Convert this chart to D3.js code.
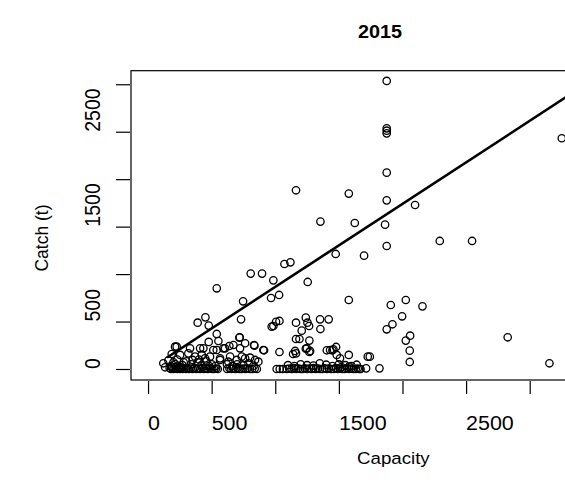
<!DOCTYPE html>
<html>
<head>
<meta charset="utf-8">
<script src="https://cdn.jsdelivr.net/npm/d3@7"></script>
<style>
body { margin: 0; background: #fff; }
text { font-family: "Liberation Sans", Arial, sans-serif; fill: #000; }
</style>
</head>
<body>
<div id="scatter"></div>
<script>
// values
var capacity = [
    1876, 1876, 1876, 1876, 3252, 1876, 1163, 1578, 1876, 2099, 1355, 1625, 1863, 1876, 2293, 2547,
    1475, 1698, 1072, 1119, 807, 896, 985, 1255, 540, 1030, 967, 747, 1578, 2026, 1908, 2157,
    1997, 1921, 1876, 2060, 2026, 2057, 2057, 2827, 3155,
    451, 390, 477, 540, 731, 721, 477, 553, 718,
    1033, 985, 972, 1163, 1240, 1253, 1266, 1208, 1352, 1420, 1355, 1163, 1190, 1268, 1240, 1268,
    1163, 1140, 1033, 1405, 1449, 1478, 1578, 1727, 1743, 1714, 1819, 836, 912,
    1248, 1274, 1156, 1431, 1457, 1509, 1483, 1006,
    212, 225, 330, 409, 540, 592, 639, 671, 833, 906, 723, 605, 763, 435, 513, 120,
    134, 186, 252, 317, 370, 422, 487, 566, 631, 697, 763, 841, 448, 566, 645, 737, 802, 867,
    160, 200, 230, 270, 300, 340, 390, 420, 460, 500, 530, 620, 660, 700, 750, 790, 830,
    180, 215, 245, 280, 350, 400, 480,
    170, 180, 190, 200, 210, 220, 230, 240, 250, 260, 272, 285, 298, 310, 322, 335, 350, 365,
    380, 395, 410, 425, 440, 455, 470, 488, 505, 520, 535, 548,
    622, 640, 655, 670, 688, 705, 720, 735, 750, 765, 782, 800, 818, 838, 855,
    1011, 1035, 1060, 1090, 1110, 1128, 1148, 1165, 1182, 1198, 1215, 1232, 1250, 1268, 1285,
    1300, 1318, 1335, 1352, 1370, 1388, 1405, 1422, 1440, 1458, 1475, 1492, 1510, 1528, 1545,
    1562, 1580, 1598, 1615, 1632, 1648, 1662, 1670,
    1100, 1150, 1200, 1250, 1300, 1350, 1400, 1450, 1500, 1550, 1600, 1640, 1520, 1580
];
var catchT = [
    3035, 2536, 2511, 2483, 2431, 2069, 1883, 1848, 1777, 1728, 1553, 1538, 1521, 1296, 1349, 1349,
    1212, 1194, 1106, 1124, 1005, 1005, 934, 917, 850, 780, 748, 713, 727, 727, 674, 660,
    555, 471, 418, 351, 299, 193, 74, 334, 60,
    544, 488, 457, 369, 523, 334, 285, 295, 330,
    506, 453, 446, 488, 541, 488, 453, 404, 523, 523, 421, 316, 316, 299, 214, 179,
    165, 158, 179, 197, 197, 232, 148, 130, 130, 7, 7, 246, 197,
    218, 190, 190, 200, 207, 112, 148, 498,
    235, 235, 218, 218, 200, 218, 242, 253, 253, 200, 218, 218, 271, 218, 200, 60,
    18, 158, 148, 165, 130, 148, 130, 95, 77, 95, 112, 95, 112, 112, 130, 130, 119, 77,
    90, 70, 100, 40, 80, 50, 70, 40, 80, 50, 30, 50, 30, 50, 40, 60, 35,
    30, 50, 20, 70, 95, 100, 30,
    10, 0, 15, 0, 5, 20, 0, 10, 0, 15, 0, 5, 0, 10, 0, 5, 0, 10,
    0, 5, 0, 10, 0, 5, 0, 8, 0, 0, 5, 0,
    0, 8, 0, 5, 0, 10, 0, 0, 5, 0, 8, 0, 0, 5, 0,
    0, 0, 0, 0, 5, 0, 10, 0, 5, 0, 0, 8, 0, 5, 0,
    10, 0, 5, 0, 0, 8, 0, 5, 0, 0, 10, 0, 5, 0, 0,
    8, 0, 5, 0, 0, 5, 0, 0,
    40, 30, 50, 40, 35, 60, 45, 30, 50, 40, 30, 45, 20, 25
];

// fitted line end points
var fitCapacity = [150, 3400];
var fitCatch = [121, 2965];

var xTicks = [0, 500, 1000, 1500, 2000, 2500, 3000];
var xTickLabels = ["0", "500", "", "1500", "", "2500", ""];
var yTicks = [0, 500, 1000, 1500, 2000, 2500, 3000];
var yTickLabels = ["0", "500", "", "1500", "", "2500", ""];

var svgWidth = 565;
var svgHeight = 488;
// text in the picture is a little wider than the font
var stretch = 1.1;

var svg = d3.select("#scatter")
    .append("svg")
    .attr("width", svgWidth)
    .attr("height", svgHeight);

// plot box runs off the right side of the picture
var xScale = d3.scaleLinear().domain([-134, 3650]).range([131, 612.4]);
var yScale = d3.scaleLinear().domain([-116, 3143]).range([380, 70.7]);

var points = capacity.map(function(c, i) { return {x: c, y: catchT[i]}; });

svg.append("rect")
    .attr("x", xScale.range()[0])
    .attr("y", yScale.range()[1])
    .attr("width", xScale.range()[1] - xScale.range()[0])
    .attr("height", yScale.range()[0] - yScale.range()[1])
    .attr("fill", "none")
    .attr("stroke", "#000")
    .attr("stroke-width", 1.2);

// x axis
var xAxis = svg.append("g")
    .attr("transform", "translate(0, 381)")
    .call(d3.axisBottom(xScale).tickValues(xTicks).tickSize(13).tickFormat(""));
xAxis.select(".domain").remove();
xAxis.selectAll("line").attr("stroke-width", 1.2);

svg.selectAll(".xlab")
    .data(xTicks)
    .enter()
    .append("text")
    .attr("transform", d => `translate(${xScale(d)}, 430) scale(${stretch}, 1)`)
    .attr("font-size", "19.5px")
    .text((d, i) => xTickLabels[i]);

// y axis
var yAxis = svg.append("g")
    .attr("transform", "translate(130, 0)")
    .call(d3.axisLeft(yScale).tickValues(yTicks).tickSize(14).tickFormat(""));
yAxis.select(".domain").remove();
yAxis.selectAll("line").attr("stroke-width", 1.2);

svg.selectAll(".ylab")
    .data(yTicks)
    .enter()
    .append("text")
    .attr("transform", d => `translate(100, ${yScale(d)}) scale(${stretch}, 1) rotate(-90)`)
    .attr("font-size", "19.5px")
    .text((d, i) => yTickLabels[i]);

// points
var clip = svg.append("clipPath").attr("id", "plotclip")
    .append("rect")
    .attr("x", 131).attr("y", 70.7)
    .attr("width", 481).attr("height", 309.3);

var plot = svg.append("g").attr("clip-path", "url(#plotclip)");

plot.selectAll("circle")
    .data(points)
    .enter()
    .append("circle")
    .attr("cx", d => xScale(d.x))
    .attr("cy", d => yScale(d.y))
    .attr("r", 3.7)
    .attr("fill", "none")
    .attr("stroke", "#000")
    .attr("stroke-width", 1.3);

plot.append("line")
    .attr("x1", xScale(fitCapacity[0]))
    .attr("y1", yScale(fitCatch[0]))
    .attr("x2", xScale(fitCapacity[1]))
    .attr("y2", yScale(fitCatch[1]))
    .attr("stroke", "#000")
    .attr("stroke-width", 2.6);

// titles
svg.append("text")
    .attr("transform", `translate(358, 38) scale(${stretch}, 1)`)
    .attr("font-size", "18px")
    .attr("font-weight", "bold")
    .text("2015");

svg.append("text")
    .attr("transform", `translate(357, 464) scale(${stretch}, 1)`)
    .attr("font-size", "17px")
    .text("Capacity");

svg.append("text")
    .attr("transform", `translate(48, 238) scale(${stretch}, 1) rotate(-90)`)
    .attr("text-anchor", "middle")
    .attr("font-size", "17.5px")
    .text("Catch (t)");
</script>
</body>
</html>
